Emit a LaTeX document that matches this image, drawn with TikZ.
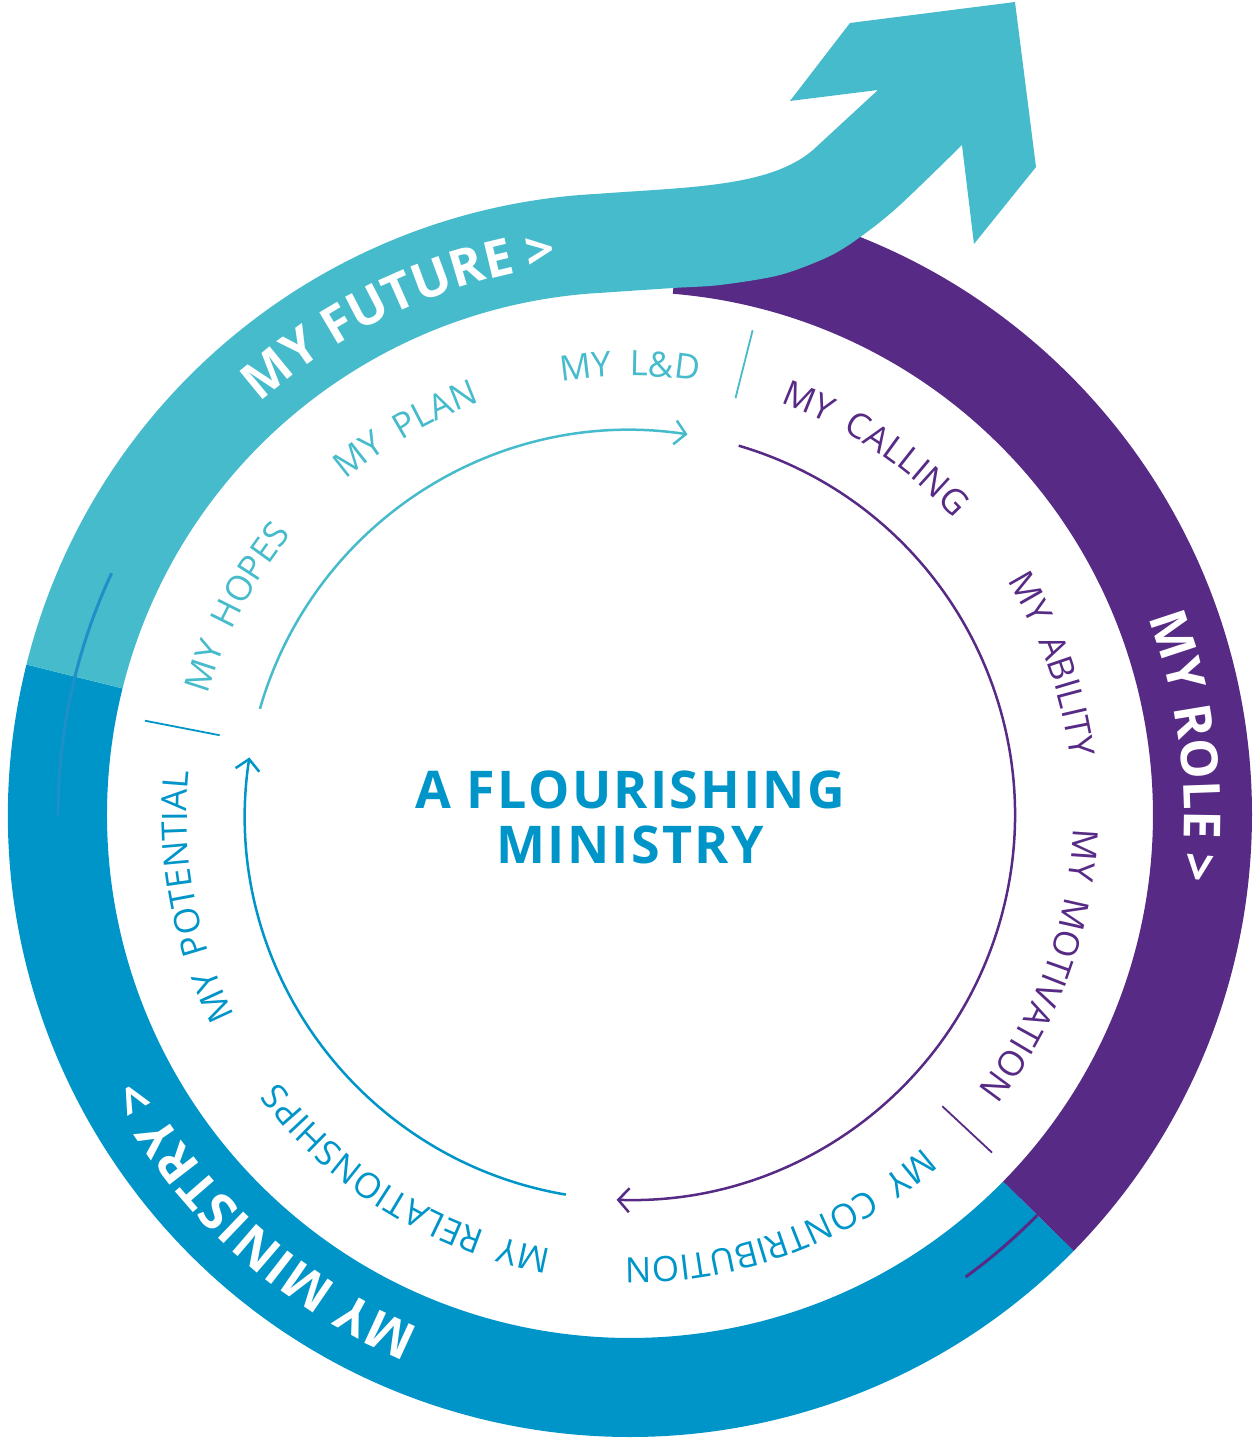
\documentclass[tikz,border=0pt]{standalone}
\usepackage{fontspec}
\setmainfont{Open Sans}
\usetikzlibrary{decorations.text,arrows.meta}
\definecolor{cteal}{HTML}{46BBCB}
\definecolor{cpurple}{HTML}{572B85}
\definecolor{cblue}{HTML}{0095C9}
\definecolor{cline}{HTML}{1E8FC8}
\newcommand{\ringtext}[5]{%
  \path[decorate, decoration={text along path, text={|#4|#5}, text align=center}]
    ({#1+#3}:#2) arc[start angle={#1+#3}, end angle={#1-#3}, radius=#2];}
\newcommand{\smallf}{\fontsize{35}{40}\selectfont}
\newcommand{\bigf}{\fontsize{51}{58}\selectfont\bfseries\color{white}}
\tikzset{
  cyclearrow/.style={line width=2.5pt, -{Straight Barb[length=11pt,width=24pt]}},
  sepline/.style={line width=1.8pt},
  title/.style={font=\fontsize{52}{58}\selectfont\bfseries\addfontfeature{LetterSpace=4.5}, text=cblue, anchor=base, inner sep=0pt}
}
\begin{document}
\begin{tikzpicture}[x=1pt,y=1pt]
\useasboundingbox (-630,-628) rectangle (628,815);
% purple band (MY ROLE)
\fill[cpurple] (85.3:622) arc[start angle=85.3, end angle=-44.5, radius=622]
  -- (-44.5:523) arc[start angle=-44.5, end angle=85.3, radius=523] -- cycle;
% blue band (MY MINISTRY)
\fill[cblue] (166:622) arc[start angle=166, end angle=315.5, radius=622]
  -- (315.5:523) arc[start angle=315.5, end angle=166, radius=523] -- cycle;
% teal band with arrow (MY FUTURE)
\fill[cteal] (166:622) arc[start angle=166, end angle=93, radius=622]
  .. controls (60,628) and (140,628) .. (183,665)
  -- (248,725) -- (160,714) -- (220,792) -- (385,813) -- (406,648) -- (344,571)
  -- plot[smooth, tension=0.5] coordinates {(332,670) (270,610) (233,580) (200,559) (150,540) (90,530) (43,527) (-27.37,522.28)}
  arc[start angle=93, end angle=166, radius=523] -- cycle;
% thin lines inside the ring
\draw[cline, line width=3pt] (155:572) arc[start angle=155, end angle=180, radius=572];
\draw[cpurple, line width=3pt] (-44.5:571) arc[start angle=-44.5, end angle=-54, radius=571];
% ring labels
\ringtext{114.7}{554}{40}{\bigf}{MY FUTURE >}
\ringtext{7}{554}{40}{\bigf}{MY ROLE >}
\ringtext{228}{554}{40}{\bigf}{MY MINISTRY >}
% separators
\draw[cteal, sepline] (75.8:430) -- (75.8:500);
\draw[cblue, sepline] (169:418) -- (169:494);
\draw[cpurple, sepline] (-43:427) -- (-43:495);
% inner cycle arrows
\coordinate (tealstart) at (164:385);
\coordinate (purplestart) at (73.6:385);
\coordinate (bluestart) at (260.4:385);
\draw[cteal, cyclearrow] (tealstart) arc[start angle=164, end angle=81.4, radius=385];
\draw[cpurple, cyclearrow] (purplestart) arc[start angle=73.6, end angle=-92, radius=385];
\draw[cblue, cyclearrow] (bluestart) arc[start angle=260.4, end angle=171.4, radius=385];
% small labels
\ringtext{90}{439}{40}{\smallf\color{cteal}}{MY{\kern8pt} L{\&}D}
\ringtext{120.1}{439}{40}{\smallf\color{cteal}}{MY{\kern8pt} PLAN}
\ringtext{152.2}{439}{40}{\smallf\color{cteal}}{MY{\kern8pt} HOPES}
\ringtext{56.2}{439}{40}{\smallf\color{cpurple}}{MY{\kern8pt} CALLING}
\ringtext{19.6}{444}{40}{\smallf\color{cpurple}}{MY{\kern8pt} ABILITY}
\ringtext{-20}{443}{40}{\smallf\color{cpurple}}{MY{\kern8pt} MOTIVATION}
\ringtext{-69.6}{443}{40}{\smallf\color{cblue}}{MY{\kern8pt} CONTRIBUTION}
\ringtext{238.5}{441}{40}{\smallf\color{cblue}}{MY{\kern8pt} RELATIONSHIPS}
\ringtext{190.6}{443}{40}{\smallf\color{cblue}}{MY{\kern8pt} POTENTIAL}
% title
\node[title] (title1) at (0,7) {A FLOURISHING};
\node[title] (title2) at (0,-48) {MINISTRY};
\end{tikzpicture}
\end{document}
